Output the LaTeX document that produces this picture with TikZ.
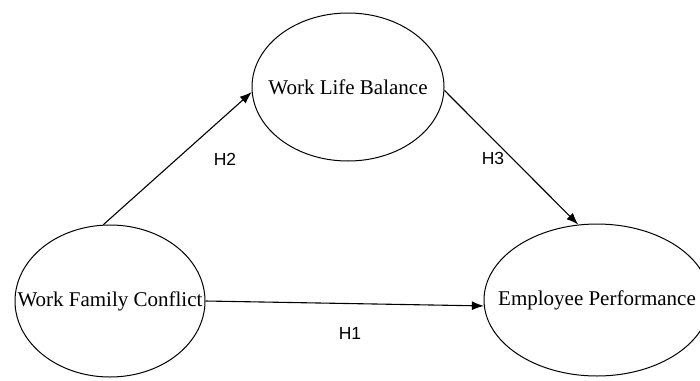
\documentclass[tikz,border=0pt]{standalone}
\usepackage{fontspec}
\setmainfont{Liberation Serif}
\newfontfamily\hypfont{Liberation Sans}
\usetikzlibrary{shapes.geometric,arrows.meta}
\tikzset{
    construct/.style={draw,ellipse,line width=1pt,inner sep=0pt,
        font=\fontsize{21}{25}\selectfont},
    path/.style={-{Latex[length=12pt,width=9pt]},line width=1.1pt},
    hyp/.style={font=\hypfont\fontsize{17.5}{20}\selectfont}
}
\begin{document}
\begin{tikzpicture}[x=1pt,y=-1pt]
        \useasboundingbox (0,0) rectangle (700,380);
        \node[construct,minimum width=190pt,minimum height=152pt] (wfc) at (110,301) {\makebox[0pt]{Work Family Conflict}};
        \node[construct,minimum width=192pt,minimum height=148pt] (wlb) at (348,87) {\makebox[0pt]{Work Life Balance}};
        \node[construct,minimum width=226pt,minimum height=152pt] (ep) at (597,300) {\makebox[0pt]{Employee Performance}};
        \draw[path] (wfc.95) -- (wlb.183);
        \draw[path] (wlb.358) -- (ep.104);
        \draw[path] (wfc.0) -- (ep.183.6);
        \node[hyp] (h2) at (225,159) {H2};
        \node[hyp] (h3) at (493,158) {H3};
        \node[hyp] (h1) at (350,333) {H1};
    \end{tikzpicture}
\end{document}
